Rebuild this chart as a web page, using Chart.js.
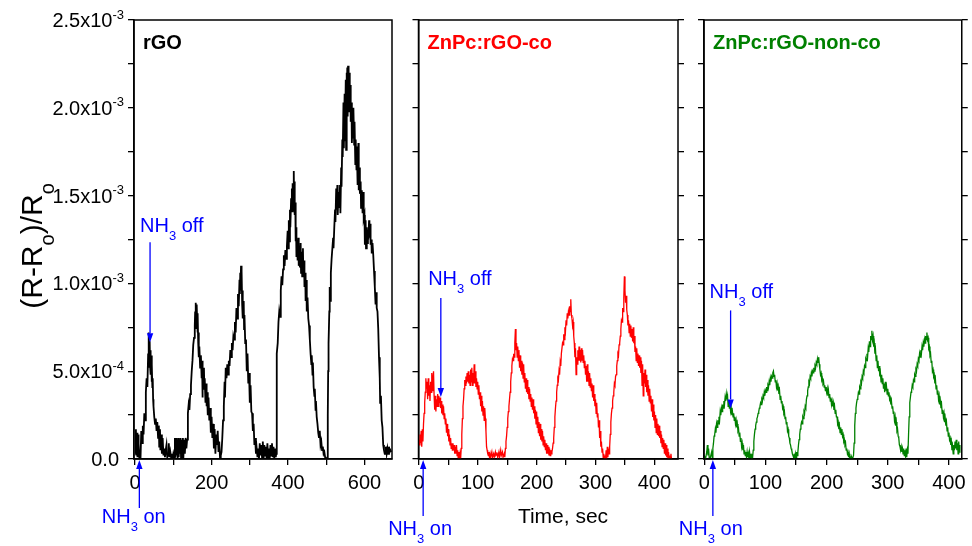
<!DOCTYPE html>
<html>
<head>
<meta charset="utf-8">
<script src="https://cdn.jsdelivr.net/npm/chart.js@4.4.1/dist/chart.umd.min.js"></script>
<style>
html, body { margin: 0; padding: 0; background: #fff; }
#wrap { position: relative; width: 972px; height: 546px; }
#wrap canvas { position: absolute; left: 0; top: 0; }
</style>
</head>
<body>
<div id="wrap">
  <canvas id="c1" width="972" height="546"></canvas>
  <canvas id="c2" width="972" height="546"></canvas>
  <canvas id="c3" width="972" height="546"></canvas>
</div>
<script>
// (R-Ro)/Ro in units of 1e-4, time in sec: [t, value]
const rgoResp = [
  [0,0.3],[2,1.7],[3,0.2],[5,1.5],[6,0.1],[8,1.4],[9,0.9],[11,0],[13,0.2],[14,0],[16,1.6],[18,0.9],[20,1.9],[22,1.4],
  [24,2.6],[26,2.2],[28,3.8],[30,4.6],[32,4.1],[34,6.0],[35,5.2],[36,7.2],[37,6.1],[38,6.7],[39,5.3],[40,6.2],[41,4.8],
  [42,5.9],[43,4.4],[44,5.4],[45,4.1],[46,4.6],[47,3.4],[48,3.0],[50,2.4],[52,2.0],[54,2.3],[56,1.6],[58,2.1],[60,1.2],
  [62,1.9],[63,0.7],[65,1.7],[66,0.5],[68,1.4],[70,0.3],[72,1.2],[74,0.2],[76,0.6],[78,0.1],[80,0.5],[82,0.8],[84,0.1],
  [86,0.2],[88,0.9],[90,0.1],[92,0.4],[94,0.1],[96,0.3],[98,0],[100,0.3],[102,0.1],[104,1.2],[105,0.1],[107,1.2],[108,0.2],
  [110,1.1],[111,0],[113,1.2],[114,0.1],[116,1.1],[117,0.3],[119,1.2],[120,0.1],[122,1.1],[123,0.2],[125,1.2],[126,0],
  [128,1.1],[130,0.3],[132,1.2],[134,0.6],[136,1.1],
  [138,2.6],[140,3.1],[142,2.8],[144,3.7],[146,4.2],[148,5.0],[150,5.6],[152,6.5],[154,6.9],[156,7.6],[157,8.4],[158,7.4],
  [159,8.9],[160,7.8],[161,8.8],[162,8.0],[163,7.2],[164,8.3],[165,6.6],[166,7.2],[167,5.8],[168,6.4],[170,5.2],[172,5.9],
  [174,4.6],[175,5.6],[176,3.5],[177,5.0],[178,4.3],[180,5.2],[181,4.0],[182,4.6],[184,3.2],[186,4.3],[187,3.0],[188,3.8],
  [190,2.5],[192,3.5],[194,2.2],[196,2.9],[198,1.5],[200,2.4],[202,1.2],[204,2.0],[206,0.6],[208,1.7],[210,0.3],[212,1.4],
  [214,0.8],[216,1.6],[218,0.4],[220,1.0],[222,0.1],[224,0.2],
  [226,0.4],[228,1.2],[230,2.2],[232,3.0],[234,4.4],[235,3.5],[237,5.2],[239,4.6],[241,5.4],[243,4.8],[245,5.6],[247,5.3],
  [249,6.2],[251,5.8],[253,6.6],[255,6.2],[257,7.0],[259,6.8],[261,7.8],[263,7.2],[265,8.6],[267,8.0],[269,9.4],[271,8.7],
  [273,10.2],[274,9.4],[275,10.6],[276,10.0],[277,11.0],[278,9.6],[279,10.7],[280,8.8],[281,9.6],[282,8.0],[284,9.0],
  [285,7.4],[286,8.2],[288,6.6],[290,6.8],[292,5.0],[294,6.0],[296,4.3],[298,4.9],[300,3.2],[302,4.2],[304,2.7],[306,2.6],
  [308,1.6],[310,2.0],[312,0.8],[314,1.2],[316,0.3],[318,0.6],[320,0.1],
  [322,0.6],[324,0],[326,0.9],[328,0.2],[330,0.8],[332,0.1],[334,1.0],[336,0],[338,0.8],[340,0.2],[342,0.7],[344,0],
  [346,0.9],[348,0.1],[350,0.6],[352,0],[354,0.8],[356,0.2],[358,0.9],[360,0.1],[362,0.7],[364,0],[366,0.6],[368,0.1],
  [369,0.3],[370,3.2],[371,6.0],[373,6.6],[375,7.8],[377,8.4],[379,8.1],[381,9.6],[383,10.4],[385,9.9],[387,10.8],
  [389,11.6],[391,11.0],[393,11.9],[395,11.4],[397,12.1],[399,13.0],[400,12.0],[402,13.6],[403,12.4],[405,14.2],[406,13.2],
  [408,14.8],[410,15.4],[411,14.1],[412,15.7],[414,15.0],[415,16.4],[416,14.4],[417,15.8],[418,13.9],[419,14.6],[420,12.4],
  [421,13.2],[422,11.5],[424,12.4],[425,11.3],[427,12.6],[428,11.0],[430,12.1],[431,10.9],[433,12.3],[434,10.6],[436,11.8],
  [437,10.4],[439,12.0],[440,10.5],[442,11.3],[443,9.8],[445,10.6],[446,9.0],[448,10.2],[449,8.4],[451,9.2],[453,8.0],
  [455,7.6],[457,6.8],[459,6.0],[461,5.4],[462,5.9],[464,4.8],[465,5.5],[467,4.1],[469,3.6],[470,4.0],[472,2.8],[473,3.3],
  [475,2.4],[477,2.0],[479,1.5],[481,1.2],[483,1.6],[485,0.8],[487,1.0],[489,0.5],[491,0.7],[493,0.3],[495,0.4],[497,0.1],
  [499,0.1],[501,0],[503,0.1],
  [504,2.5],[505,5.0],[506,6.6],[508,8.4],[509,9.8],[510,9.0],[512,10.6],[514,11.4],[516,12.0],[518,12.6],[519,12.0],
  [521,13.2],[523,14.2],[524,13.5],[526,15.4],[527,14.2],[529,15.6],[530,13.9],[532,15.2],[534,14.3],[536,15.6],[537,14.0],
  [539,16.6],[540,15.5],[542,18.2],[543,17.2],[545,20.3],[546,17.7],[548,20.8],[549,18.1],[551,21.6],[552,17.6],[553,22.0],
  [554,20.1],[555,22.3],[556,19.5],[557,22.4],[558,20.2],[559,21.8],[560,19.8],[561,22.0],[562,20.2],[563,21.3],[564,19.2],
  [566,20.3],[567,18.0],[569,19.8],[570,18.3],[571,20.0],[573,17.9],[574,19.2],[576,16.8],[577,18.2],[579,16.5],[580,17.8],
  [582,15.6],[584,18.0],[585,15.3],[587,16.6],[588,15.1],[590,15.8],[591,14.3],[593,15.3],[595,14.0],[597,15.2],[598,13.7],
  [600,13.9],[601,12.2],[603,13.6],[604,12.0],[606,13.2],[607,12.3],[609,12.9],[610,12.5],[612,13.6],[613,12.6],[615,13.4],
  [616,12.2],[618,12.5],[619,11.7],[621,12.3],[623,11.6],[625,10.7],[627,9.8],[629,8.8],[631,9.5],[632,8.6],[634,8.4],
  [636,7.4],[638,5.8],[640,4.6],[641,3.2],[643,3.6],[645,2.2],[647,1.8],[649,0.8],[651,0.5],[653,0.3],[655,0.3],[656,0.7],
  [658,0.3],[660,0.6],[662,0.3],[664,0.7],[666,0.4],[668,0.5],[670,0.4]
];

const coResp = [
  [0,1.1],[1,0.8],[2,1.4],[3,0.9],[4,1.6],[5,0.7],[6,1.7],[7,1.0],[8,2.0],[9,2.6],[10,3.2],[11,3.8],[12,4.6],[13,4.0],
  [14,4.4],[15,3.4],[16,4.6],[17,3.6],[18,4.2],[19,3.3],[20,4.4],[21,3.8],[22,4.9],[23,3.9],[24,4.6],[25,5.0],[26,3.6],
  [27,2.8],[28,3.6],[29,2.7],[30,3.4],[31,3.0],[32,3.7],[33,3.0],[34,3.6],[35,3.2],[36,3.5],[37,2.9],[38,3.3],[39,2.6],
  [40,3.1],[41,2.5],[42,3.0],[43,2.3],[44,2.6],[45,2.0],[46,2.3],[47,1.5],[48,2.0],[49,1.3],[50,1.7],[51,1.0],[52,1.4],
  [53,0.8],[54,1.2],[55,0.6],[56,0.9],[57,0.5],[58,0.9],[59,0.5],[60,0.8],[61,0.3],[62,0.7],[63,0.3],[64,0.8],[65,0.2],
  [66,0.5],[67,0],[68,0.4],[69,0],[70,0.3],[71,0],[72,0.6],[73,1.4],[74,2.3],[75,3.0],[76,3.4],[77,4.0],[78,4.5],[79,4.2],
  [80,4.7],[81,4.3],[82,4.9],[83,4.4],[84,5.0],[85,4.3],[86,4.8],[87,4.2],[88,5.1],[89,4.4],[90,5.2],[91,4.2],[92,4.9],
  [93,4.3],[94,5.4],[95,4.3],[96,5.0],[97,4.1],[98,4.6],[99,4.0],[100,4.4],[101,3.7],[102,4.2],[103,3.4],[104,3.8],[105,3.0],
  [106,3.6],[107,2.7],[108,3.3],[109,2.5],[110,3.0],[111,2.2],[112,2.9],[113,2.3],[114,1.6],[115,0.7],[116,0.5],[117,0.3],
  [118,0.2],[119,0.4],[120,0.1],[121,0.3],[122,0.1],[124,0.4],[125,0.1],[127,0.3],[128,0.1],[130,0.4],[131,0.2],[133,0.3],
  [134,0.1],[136,0.4],[137,0.1],[139,0.5],[140,0.2],[142,0.4],[143,0.1],[145,0.3],[146,0.1],[147,0.6],[148,1.0],[149,1.3],
  [150,1.8],[151,2.3],[152,2.7],[153,3.0],[154,3.4],[155,3.8],[156,4.4],[157,4.9],[158,5.3],[159,5.7],[160,5.6],[161,6.0],
  [162,5.8],[163,6.6],[164,7.4],[165,6.2],[166,6.6],[167,5.8],[168,6.4],[169,5.6],[170,6.2],[171,5.2],[172,5.9],[173,5.0],
  [174,5.6],[175,4.8],[176,5.5],[177,4.6],[178,5.4],[179,4.4],[180,4.9],[181,4.0],[182,4.6],[183,3.8],[184,4.5],[185,3.7],
  [186,4.1],[187,3.4],[188,4.0],[189,3.3],[190,3.7],[191,3.0],[192,3.5],[193,2.8],[194,3.4],[195,2.6],[196,3.0],[197,2.3],
  [198,2.8],[199,2.0],[200,2.7],[201,1.8],[202,2.4],[203,1.5],[204,2.1],[205,1.3],[206,2.0],[207,1.1],[208,1.7],[209,1.0],
  [210,1.6],[211,0.8],[212,1.3],[213,0.7],[214,1.1],[215,0.5],[216,0.9],[217,0.3],[218,0.8],[219,0.3],[220,0.7],[221,0.2],
  [222,0.6],[223,0.2],[224,0.5],[225,0.3],[226,0.4],[227,0.6],[228,0.9],[229,1.2],[230,1.8],[231,2.4],[232,2.9],[233,3.3],
  [234,3.8],[235,4.2],[236,4.6],[237,4.5],[238,5.0],[239,4.8],[240,5.5],[241,5.3],[242,6.0],[243,6.0],[244,6.6],[245,6.5],
  [246,7.1],[247,6.8],[248,7.5],[249,7.3],[250,7.9],[251,7.6],[252,8.3],[253,8.0],[254,8.4],[255,8.2],[256,8.7],[257,8.4],
  [258,9.1],[259,8.2],[260,8.0],[261,7.6],[262,7.8],[263,7.0],[264,6.6],[265,5.8],[266,6.3],[267,4.8],[268,5.8],[269,5.4],
  [270,6.2],[271,5.6],[272,6.4],[273,5.6],[274,6.2],[275,5.5],[276,6.3],[277,5.6],[278,6.2],[279,5.5],[280,5.9],[281,5.2],
  [282,5.6],[283,4.8],[284,5.3],[285,4.4],[286,5.4],[287,4.4],[288,5.0],[289,4.2],[290,4.9],[291,4.1],[292,4.6],[293,3.9],
  [294,4.3],[295,3.5],[296,4.2],[297,3.3],[298,3.7],[299,3.0],[300,3.4],[301,2.6],[302,3.2],[303,2.4],[304,2.6],[305,1.8],
  [306,2.2],[307,1.2],[308,1.6],[309,0.7],[310,1.0],[311,0.4],[312,0.6],[313,0.1],[314,0.3],[315,0],[316,0.2],[317,0],
  [318,0.5],[319,0],[320,0.7],[321,0.1],[322,0.6],[323,0.3],[324,0.7],[325,1.4],[326,2.1],[327,2.6],[328,2.9],[329,3.3],
  [330,3.6],[331,3.8],[332,4.3],[333,4.2],[334,4.7],[335,4.8],[336,5.3],[337,5.6],[338,6.0],[339,5.9],[340,6.5],[341,6.6],
  [342,7.0],[343,7.4],[344,7.9],[345,7.8],[346,8.6],[347,8.4],[348,9.2],[349,10.4],[350,9.6],[351,8.9],[352,9.3],[353,8.5],
  [354,8.2],[355,7.6],[356,7.9],[357,7.2],[358,7.7],[359,7.0],[360,7.6],[361,6.9],[362,7.4],[363,6.7],[364,7.5],[365,6.6],
  [366,7.0],[367,6.1],[368,6.4],[369,5.6],[370,6.3],[371,5.5],[372,6.0],[373,5.3],[374,5.9],[375,5.2],[376,5.8],[377,4.9],
  [378,5.6],[379,4.2],[380,5.4],[381,3.6],[382,4.9],[383,4.3],[384,5.1],[385,4.1],[386,4.8],[387,3.8],[388,4.5],[389,3.6],
  [390,4.2],[391,3.3],[392,4.0],[393,3.2],[394,3.6],[395,2.7],[396,3.4],[397,2.4],[398,3.1],[399,2.2],[400,2.7],[401,1.8],
  [402,2.5],[403,1.5],[404,2.3],[405,1.4],[406,2.0],[407,1.3],[408,1.9],[409,1.2],[410,1.6],[411,0.9],[412,1.4],[413,0.7],
  [414,1.2],[415,0.6],[416,1.1],[417,0.3],[418,0.9],[419,0.2],[420,0.8],[421,0.1],[422,0.6],[423,0],[424,0.4],[425,0],
  [426,0.2],[427,0],[428,0.3],[429,0]
];

const nonCoResp = [
  [0,0.2],[2,0.0],[4,0.4],[5,0.8],[6,0.2],[7,0.6],[8,0.1],[10,0.1],[12,0.4],[13,0.1],[14,0.6],[15,0.9],[16,1.3],[17,1.4],
  [18,1.7],[19,1.5],[20,2.0],[21,1.8],[22,2.2],[23,2.0],[24,2.4],[25,2.2],[26,2.7],[27,2.5],[28,2.9],[29,2.7],[30,3.1],
  [31,2.9],[32,3.3],[33,3.1],[34,3.5],[35,3.3],[36,3.7],[37,3.4],[38,3.6],[39,3.0],[40,3.3],[41,2.9],[42,3.1],[43,2.7],
  [44,2.9],[45,2.5],[46,2.7],[47,2.4],[48,2.6],[49,2.2],[50,2.4],[51,2.0],[52,2.2],[53,1.8],[54,2.0],[55,1.6],[56,1.7],
  [57,1.3],[58,1.5],[59,1.0],[60,1.2],[61,0.7],[62,0.9],[63,0.5],[64,0.8],[65,0.3],[66,0.5],[67,0.2],[68,0.4],[69,0.1],
  [70,0.4],[71,0.1],[72,0.3],[73,0],[74,0.4],[75,0.1],[76,0.3],[77,0],[78,0.2],[79,0.1],[80,0.5],[81,1.0],[82,1.4],[83,1.7],
  [84,1.9],[85,2.1],[86,2.3],[87,2.4],[88,2.6],[89,2.7],[90,2.9],[91,3.0],[92,3.2],[93,3.1],[94,3.4],[95,3.3],[96,3.6],
  [97,3.5],[98,3.8],[99,3.6],[100,3.9],[101,3.8],[102,4.1],[103,3.9],[104,4.2],[105,4.1],[106,4.4],[107,4.2],[108,4.6],
  [109,4.4],[110,4.7],[111,4.6],[112,4.9],[113,5.0],[114,4.7],[115,4.8],[116,4.4],[117,4.5],[118,4.1],[119,4.3],[120,3.9],
  [121,4.1],[122,3.7],[123,3.9],[124,3.4],[125,3.6],[126,3.2],[127,3.3],[128,2.9],[129,3.0],[130,2.6],[131,2.7],[132,2.3],
  [133,2.4],[134,2.0],[135,2.1],[136,1.6],[137,1.7],[138,1.3],[139,1.2],[140,0.9],[141,0.8],[142,0.6],[143,0.5],[144,0.3],
  [145,0.2],[146,0.1],[147,0.2],[148,0],[149,0.3],[150,0.1],[151,0.4],[152,0.2],[153,0.4],[154,0.8],[155,1.1],[156,1.4],
  [157,1.7],[158,1.9],[159,2.1],[160,2.0],[161,2.4],[162,2.3],[163,2.7],[164,2.6],[165,3.0],[166,2.9],[167,3.4],[168,3.6],
  [169,3.9],[170,4.1],[171,4.4],[172,4.3],[173,4.7],[174,4.6],[175,4.9],[176,4.7],[177,5.0],[178,4.9],[179,5.2],[180,5.0],
  [181,5.3],[182,5.2],[183,5.5],[184,5.4],[185,5.7],[186,5.5],[187,5.8],[188,5.4],[189,5.1],[190,4.8],[191,4.9],[192,4.5],
  [193,4.6],[194,4.3],[195,4.4],[196,4.1],[197,4.2],[198,3.9],[199,4.1],[200,3.8],[201,4.0],[202,3.6],[203,3.9],[204,3.5],
  [205,3.7],[206,3.3],[207,3.5],[208,3.1],[209,3.3],[210,3.0],[211,3.2],[212,2.8],[213,3.0],[214,2.6],[215,2.8],[216,2.4],
  [217,2.4],[218,2.0],[219,2.1],[220,1.7],[221,1.9],[222,1.5],[223,1.8],[224,1.4],[225,1.7],[226,1.3],[227,1.4],[228,1.0],
  [229,1.1],[230,0.8],[231,0.9],[232,0.5],[233,0.6],[234,0.3],[235,0.4],[236,0.1],[237,0.3],[238,0],[239,0.1],[240,0],
  [241,0.1],[242,0],[243,0.1],[244,0.2],[245,0.9],[246,1.9],[247,2.6],[248,2.9],[249,3.2],[250,3.4],[251,3.5],[252,3.8],
  [253,3.7],[254,4.1],[255,4.0],[256,4.4],[257,4.3],[258,4.7],[259,4.6],[260,5.0],[261,4.9],[262,5.3],[263,5.2],[264,5.7],
  [265,5.6],[266,6.0],[267,5.8],[268,6.3],[269,6.1],[270,6.7],[271,6.4],[272,7.0],[273,6.8],[274,7.3],[275,6.8],[276,7.0],
  [277,6.4],[278,6.6],[279,6.0],[280,6.2],[281,5.6],[282,5.9],[283,5.2],[284,5.6],[285,5.0],[286,5.3],[287,4.7],[288,4.9],
  [289,4.4],[290,4.8],[291,4.3],[292,4.6],[293,4.0],[294,4.3],[295,3.8],[296,4.4],[297,3.9],[298,4.1],[299,3.7],[300,4.0],
  [301,3.6],[302,3.8],[303,3.4],[304,3.5],[305,3.1],[306,3.3],[307,2.9],[308,3.0],[309,2.6],[310,2.7],[311,2.2],[312,2.4],
  [313,1.9],[314,2.1],[315,1.6],[316,1.7],[317,1.3],[318,1.2],[319,0.8],[320,0.7],[321,0.5],[322,0.7],[323,0.4],[324,0.6],
  [325,0.3],[326,0.6],[327,0.2],[328,0.5],[329,0.2],[330,0.6],[331,0.1],[332,0.5],[333,0.3],[334,1.4],[335,2.4],[336,3.2],
  [337,3.5],[338,3.8],[339,3.9],[340,4.2],[341,4.1],[342,4.5],[343,4.4],[344,4.8],[345,4.7],[346,5.1],[347,5.0],[348,5.4],
  [349,5.3],[350,5.7],[351,5.6],[352,6.0],[353,5.8],[354,6.2],[355,6.0],[356,6.4],[357,6.2],[358,6.6],[359,6.4],[360,6.8],
  [361,6.6],[362,7.0],[363,6.8],[364,7.2],[365,6.8],[366,6.9],[367,6.3],[368,6.4],[369,5.9],[370,6.0],[371,5.5],[372,5.6],
  [373,5.0],[374,5.1],[375,4.7],[376,4.8],[377,4.3],[378,4.5],[379,4.0],[380,4.2],[381,3.7],[382,3.9],[383,3.4],[384,3.6],
  [385,3.1],[386,3.3],[387,2.9],[388,3.1],[389,2.6],[390,2.8],[391,2.4],[392,2.6],[393,2.1],[394,2.3],[395,1.9],[396,2.1],
  [397,1.6],[398,1.8],[399,1.3],[400,1.5],[401,1.1],[402,1.2],[403,0.8],[404,1.0],[405,0.5],[406,0.7],[407,0.3],[408,0.8],
  [409,0.5],[410,1.0],[411,0.6],[412,1.1],[413,0.5],[414,0.9],[415,0.3],[416,1.0],[417,0.4],[418,0.8]
];

// axis ticks (y in units of 1e-4)
const yTicks = [0, 2.5, 5, 7.5, 10, 12.5, 15, 17.5, 20, 22.5, 25];
const yLabelVals = [0, 5, 10, 15, 20, 25];
const yLabelMant = ['0.0', '5.0x10', '1.0x10', '1.5x10', '2.0x10', '2.5x10'];
const yLabelExp = ['', '-4', '-3', '-3', '-3', '-3'];
const xTicksRgo = [0, 100, 200, 300, 400, 500, 600];
const xLabelsRgo = [0, 200, 400, 600];
const xTicksZn = [0, 50, 100, 150, 200, 250, 300, 350, 400];
const xLabelsZn = [0, 100, 200, 300, 400];

const panelNames = ['rGO', 'ZnPc:rGO-co', 'ZnPc:rGO-non-co'];

const FONT = '"Liberation Sans", Arial, sans-serif';
const TICK = 6;
const XAXIS_H = 40;
const BLUE = '#0000ff';

const panels = [
  { id: 'c1', name: panelNames[0], data: rgoResp, color: '#000000', lw: 1.8, box: [134, 20, 392, 459],
    xMin: -3, xMax: 672, xTicks: xTicksRgo, xLabels: xLabelsRgo, rightTicks: false, yLabels: true,
    off: { t: 39, v: 6.65, len: 100, dx: -10, dy: -10 }, on: { t: 11, dx: -37.6, tail: 508, base: 523 } },
  { id: 'c2', name: panelNames[1], data: coResp, color: '#ff0000', lw: 1.3, box: [418.5, 20, 678, 459],
    xMin: -0.5, xMax: 440, xTicks: xTicksZn, xLabels: xLabelsZn, rightTicks: true, yLabels: false, xTitle: true,
    off: { t: 37.4, v: 3.53, len: 99, dx: -12.7, dy: -13 }, on: { t: 7.4, dx: -35, tail: 516, base: 535 } },
  { id: 'c3', name: panelNames[2], data: nonCoResp, color: '#008000', lw: 1.3, box: [704, 20, 964, 459],
    xMin: -0.5, xMax: 421, xTicks: xTicksZn, xLabels: xLabelsZn, rightTicks: true, yLabels: false,
    off: { t: 43, v: 2.88, len: 98, dx: -21, dy: -12 }, on: { t: 14, dx: -34, tail: 516, base: 535 } }
];

function fontFor(size, kind, bold) {
  return (bold ? 'bold ' : '') + (kind ? Math.round(size * 0.65) : size) + 'px ' + FONT;
}

function richWidth(ctx, parts, size) {
  let w = 0;
  parts.forEach(([txt, kind]) => { ctx.font = fontFor(size, kind); w += ctx.measureText(txt).width; });
  return w;
}

function drawRich(ctx, parts, x, y, size) {
  let cx = x;
  parts.forEach(([txt, kind]) => {
    ctx.font = fontFor(size, kind);
    const dy = kind === 1 ? size * 0.4 : (kind === 2 ? -size * 0.42 : 0);
    ctx.fillText(txt, cx, y + dy);
    cx += ctx.measureText(txt).width;
  });
}

function arrow(ctx, x, yTail, yTip) {
  const dir = yTip > yTail ? 1 : -1;
  const head = 9;
  ctx.beginPath();
  ctx.moveTo(x, yTail);
  ctx.lineTo(x, yTip - dir * head);
  ctx.stroke();
  ctx.beginPath();
  ctx.moveTo(x, yTip);
  ctx.lineTo(x - 3.2, yTip - dir * head);
  ctx.lineTo(x + 3.2, yTip - dir * head);
  ctx.closePath();
  ctx.fill();
}

function makeDeco(p) {
  return {
    id: 'deco' + p.id,
    afterDraw(chart) {
      const ctx = chart.ctx;
      const ca = chart.chartArea;
      const xs = chart.scales.x, ys = chart.scales.y;
      ctx.save();
      // frame
      ctx.strokeStyle = '#000';
      ctx.lineWidth = 1.5;
      ctx.strokeRect(ca.left, ca.top, ca.right - ca.left, ca.bottom - ca.top);

      // panel name
      ctx.fillStyle = p.color;
      ctx.font = 'bold 20px ' + FONT;
      ctx.textAlign = 'left';
      ctx.textBaseline = 'alphabetic';
      ctx.fillText(p.name, ca.left + 9, 49);

      // y tick labels and title
      ctx.fillStyle = '#000';
      if (p.yLabels) {
        yLabelVals.forEach((v, i) => {
          const py = ys.getPixelForValue(v) + 7;
          const parts = yLabelExp[i] ? [[yLabelMant[i], 0], [yLabelExp[i], 2]] : [[yLabelMant[i], 0]];
          const w = richWidth(ctx, parts, 20);
          const right = yLabelExp[i] ? 124 : 119;
          drawRich(ctx, parts, right - w, py, 20);
        });
        ctx.save();
        ctx.translate(42, 246);
        ctx.rotate(-Math.PI / 2);
        const tParts = [['(R-R', 0], ['o', 1], [')/R', 0], ['o', 1]];
        const tw = richWidth(ctx, tParts, 30);
        drawRich(ctx, tParts, -tw / 2, 0, 30);
        ctx.restore();
      }
      if (p.xTitle) {
        ctx.font = '21px ' + FONT;
        ctx.textAlign = 'center';
        ctx.fillText('Time, sec', 563, 523);
        ctx.textAlign = 'left';
      }

      // NH3 annotations
      ctx.fillStyle = BLUE;
      ctx.strokeStyle = BLUE;
      ctx.lineWidth = 1.3;
      const ox = xs.getPixelForValue(p.off.t);
      const oTip = ys.getPixelForValue(p.off.v);
      const oTail = oTip - p.off.len;
      arrow(ctx, ox, oTail, oTip);
      drawRich(ctx, [['NH', 0], ['3', 1], [' off', 0]], ox + p.off.dx, oTail + p.off.dy, 20);

      const nx = xs.getPixelForValue(p.on.t);
      const nTip = ys.getPixelForValue(0) + 1;
      arrow(ctx, nx, p.on.tail, nTip);
      drawRich(ctx, [['NH', 0], ['3', 1], [' on', 0]], nx + p.on.dx, p.on.base, 20);
      ctx.restore();
    }
  };
}

function makePanel(p) {
  const yAxis = {
    type: 'linear', display: true, min: 0, max: 25,
    afterBuildTicks: s => { s.ticks = yTicks.map(v => ({ value: v })); },
    afterFit: s => { s.width = TICK; },
    ticks: { display: false },
    grid: { drawOnChartArea: false, drawTicks: true, tickLength: TICK, color: '#000', lineWidth: 1.3 },
    border: { display: true, color: '#000', width: 1.5 }
  };
  const scales = {
    x: {
      type: 'linear', min: p.xMin, max: p.xMax,
      afterBuildTicks: s => { s.ticks = p.xTicks.map(v => ({ value: v })); },
      afterFit: s => { s.height = XAXIS_H; },
      ticks: {
        callback: v => (p.xLabels.includes(v) ? String(v) : ''),
        font: { family: FONT, size: 20 }, color: '#000', padding: 6, maxRotation: 0, autoSkip: false
      },
      grid: { drawOnChartArea: false, drawTicks: true, tickLength: TICK, color: '#000', lineWidth: 1.3 },
      border: { display: true, color: '#000', width: 1.5 }
    },
    y: yAxis
  };
  if (p.rightTicks) {
    scales.y2 = Object.assign({}, yAxis, { position: 'right', border: { display: false } });
  }
  return new Chart(document.getElementById(p.id), {
    type: 'line',
    data: {
      datasets: [{
        data: p.data,
        borderColor: p.color,
        borderWidth: p.lw,
        pointRadius: 0,
        tension: 0,
        fill: false
      }]
    },
    options: {
      responsive: false,
      animation: false,
      events: [],
      layout: {
        padding: {
          left: p.box[0] - TICK,
          top: p.box[1],
          right: 972 - p.box[2] - (p.rightTicks ? TICK : 0),
          bottom: 546 - p.box[3] - XAXIS_H
        }
      },
      plugins: { legend: { display: false }, tooltip: { enabled: false } },
      scales: scales
    },
    plugins: [makeDeco(p)]
  });
}

panels.forEach(makePanel);
</script>
</body>
</html>
